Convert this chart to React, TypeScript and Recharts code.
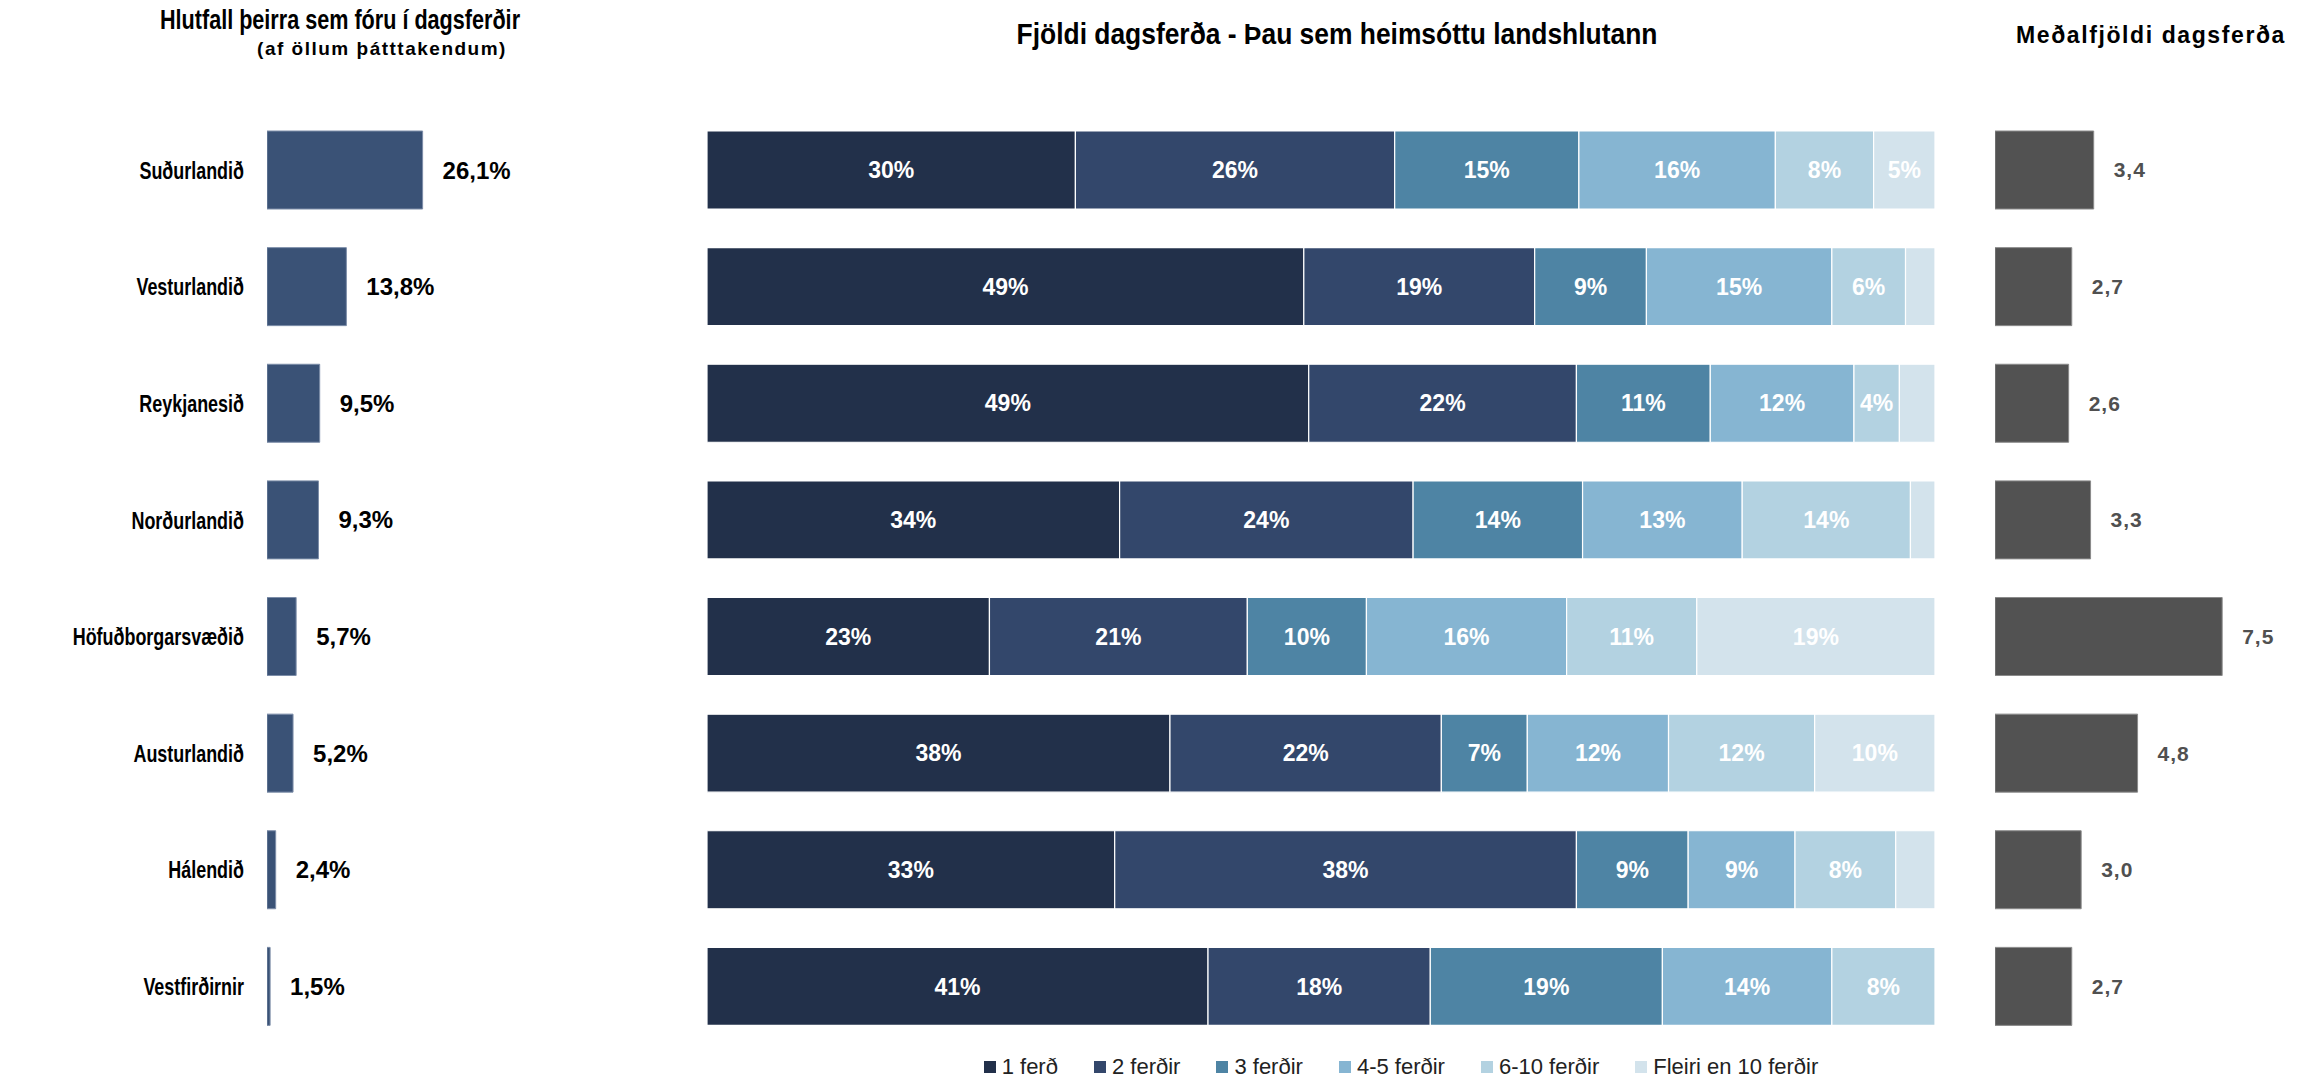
import React from 'react'
import { BarChart, Bar, XAxis, YAxis, LabelList, Legend } from 'recharts'

const REGIONS = ['Suðurlandið', 'Vesturlandið', 'Reykjanesið', 'Norðurlandið', 'Höfuðborgarsvæðið', 'Austurlandið', 'Hálendið', 'Vestfirðirnir']

// hlutfall þeirra sem fóru í dagsferðir (%)
const SHARE = [26.1, 13.8, 9.5, 9.3, 5.7, 5.2, 2.4, 1.5]

// fjöldi dagsferða, % per landshluta
const TRIP_KEYS = ['1 ferð', '2 ferðir', '3 ferðir', '4-5 ferðir', '6-10 ferðir', 'Fleiri en 10 ferðir']
const ONE   = [30.0, 48.6, 49.0, 33.6, 23.0, 37.7, 33.2, 40.8]
const TWO   = [26.0, 18.8, 21.8, 23.9, 21.0, 22.1, 37.6, 18.1]
const THREE = [15.0, 9.1, 10.9, 13.8, 9.7, 7.0, 9.1, 18.9]
const FOUR  = [16.0, 15.1, 11.7, 13.0, 16.3, 11.5, 8.7, 13.8]
const SIX   = [8.0, 6.0, 3.7, 13.7, 10.6, 11.9, 8.2, 8.4]
const MORE  = [5.0, 2.4, 2.9, 2.0, 19.4, 9.8, 3.2, 0]

// meðalfjöldi dagsferða
const AVG = [3.4, 2.7, 2.6, 3.3, 7.5, 4.8, 3.0, 2.7]

const TRIP_COLORS = ['#22304A', '#33476B', '#4E84A4', '#86B5D2', '#B3D2E1', '#D3E3EC']

const FONT = '"Liberation Sans", Arial, sans-serif'

const H = 1082
const MARGIN_TOP = 112
const MARGIN_BOTTOM = H - 1045
const BAR = 78

const rows = REGIONS.map((name, i) => ({
  name,
  share: SHARE[i],
  avg: AVG[i],
  [TRIP_KEYS[0]]: ONE[i],
  [TRIP_KEYS[1]]: TWO[i],
  [TRIP_KEYS[2]]: THREE[i],
  [TRIP_KEYS[3]]: FOUR[i],
  [TRIP_KEYS[4]]: SIX[i],
  [TRIP_KEYS[5]]: MORE[i],
}))

const comma = (v: number, suffix = '') => v.toFixed(1).replace('.', ',') + suffix

// condensed look of the original labels
const RegionTick = ({ x, y, payload }: any) => (
  <text transform={`translate(${x},${y}) scale(0.78,1)`} textAnchor="end" dominantBaseline="central"
    fontSize={23} fontWeight={700} fontFamily={FONT} fill="#000">
    {payload.value}
  </text>
)

const TripLegend = ({ payload }: any) => (
  <div style={{ display: 'flex', justifyContent: 'center', gap: 36, fontFamily: FONT, fontSize: 22, color: '#222' }}>
    {(payload ?? []).map((p: any) => (
      <div key={p.value} style={{ display: 'flex', alignItems: 'center', gap: 6 }}>
        <div style={{ width: 12, height: 12, background: p.color }} />
        <span>{p.value}</span>
      </div>
    ))}
  </div>
)

export default function App() {
  return (
    <div style={{ position: 'absolute', left: 0, top: 0, width: 2315, height: H, background: '#fff', fontFamily: FONT }}>
      {/* titlar */}
      <div style={{ position: 'absolute', left: 40, width: 600, top: 5, textAlign: 'center', fontWeight: 700, fontSize: 27, whiteSpace: 'nowrap', transform: 'scaleX(0.8)' }}>
        Hlutfall þeirra sem fóru í dagsferðir
      </div>
      <div style={{ position: 'absolute', left: 82, width: 600, top: 38, textAlign: 'center', fontWeight: 700, fontSize: 19, letterSpacing: 1.5, whiteSpace: 'nowrap' }}>
        (af öllum þátttakendum)
      </div>
      <div style={{ position: 'absolute', left: 937, width: 800, top: 18, textAlign: 'center', fontWeight: 700, fontSize: 29, whiteSpace: 'nowrap', transform: 'scaleX(0.91)' }}>
        Fjöldi dagsferða - Þau sem heimsóttu landshlutann
      </div>
      <div style={{ position: 'absolute', left: 2001, width: 300, top: 22, textAlign: 'center', fontWeight: 700, fontSize: 23, letterSpacing: 1.6, whiteSpace: 'nowrap' }}>
        Meðalfjöldi dagsferða
      </div>

      {/* hlutfall */}
      <div style={{ position: 'absolute', left: 0, top: 0 }}>
        <BarChart width={530} height={H} data={rows} layout="vertical" margin={{ top: MARGIN_TOP, bottom: MARGIN_BOTTOM, left: 0, right: 77 }}>
          <XAxis type="number" domain={[1, 31]} allowDataOverflow hide />
          <YAxis type="category" dataKey="name" width={267} tickLine={false} axisLine={false} tickSize={0} tickMargin={23} tick={<RegionTick />} />
          <Bar dataKey="share" fill="#3A5276" stroke="#7C8DA8" strokeWidth={1} barSize={BAR} isAnimationActive={false}>
            <LabelList dataKey="share" position="right" offset={20} formatter={(v: any) => comma(Number(v), '%')}
              style={{ fill: '#000', fontSize: 24, fontWeight: 700, fontFamily: FONT }} />
          </Bar>
        </BarChart>
      </div>

      {/* fjöldi dagsferða */}
      <div style={{ position: 'absolute', left: 707, top: 0 }}>
        <BarChart width={1228} height={H} data={rows} layout="vertical" margin={{ top: MARGIN_TOP, bottom: MARGIN_BOTTOM, left: 0, right: 0 }}>
          <XAxis type="number" domain={[0, 100]} hide />
          <YAxis type="category" dataKey="name" hide />
          {TRIP_KEYS.map((k, i) => (
            <Bar key={k} dataKey={k} stackId="a" fill={TRIP_COLORS[i]} stroke="#fff" strokeWidth={1.2} barSize={BAR} isAnimationActive={false}>
              <LabelList dataKey={k} position="center" formatter={(v: any) => (Number(v) >= 3.5 ? Math.round(Number(v)) + '%' : '')}
                style={{ fill: '#fff', fontSize: 23, fontWeight: 700, fontFamily: FONT }} />
            </Bar>
          ))}
          <Legend verticalAlign="middle" content={<TripLegend />} wrapperStyle={{ position: 'absolute', left: 0, width: 1388, top: 1054 }} />
        </BarChart>
      </div>

      {/* meðalfjöldi */}
      <div style={{ position: 'absolute', left: 1995, top: 0 }}>
        <BarChart width={320} height={H} data={rows} layout="vertical" margin={{ top: MARGIN_TOP, bottom: MARGIN_BOTTOM, left: 0, right: 38 }}>
          <XAxis type="number" domain={[0.25, 9.25]} allowDataOverflow hide />
          <YAxis type="category" dataKey="name" hide width={0} />
          <Bar dataKey="avg" fill="#525252" stroke="#8A8A8A" strokeWidth={1} barSize={BAR} isAnimationActive={false}>
            <LabelList dataKey="avg" position="right" offset={20} formatter={(v: any) => comma(Number(v))}
              style={{ fill: '#505050', fontSize: 21, fontWeight: 700, fontFamily: FONT, letterSpacing: 1 }} />
          </Bar>
        </BarChart>
      </div>
    </div>
  )
}
